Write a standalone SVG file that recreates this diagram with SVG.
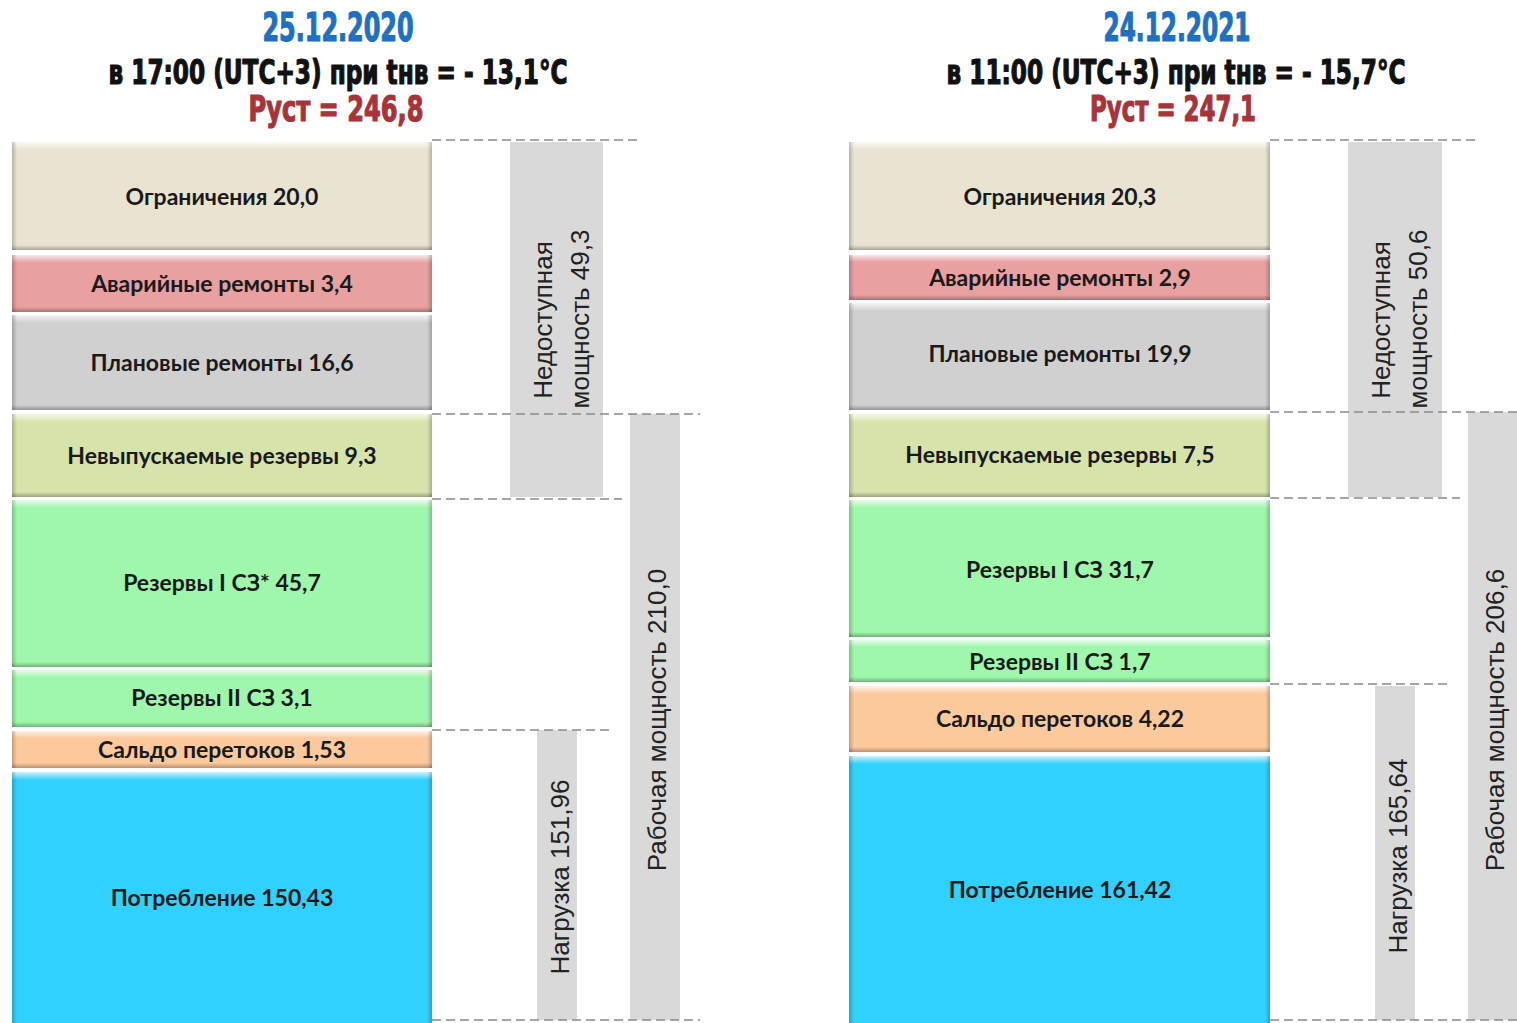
<svg xmlns="http://www.w3.org/2000/svg" width="1517" height="1023" viewBox="0 0 1517 1023">
  <style>
    .ttl { font-family: "Liberation Sans Narrow", "DejaVu Sans Condensed", "Liberation Sans", sans-serif; font-weight: bold; text-anchor: middle; stroke-width: 1.2; stroke-linejoin: round; }
    .date { fill: #1f70c4; stroke: #1f70c4; font-size: 39px; }
    .cond { fill: #111111; stroke: #111111; font-size: 34px; }
    .pust { fill: #a8343a; stroke: #a8343a; font-size: 36px; }
    .lbl { font-family: Lato, "Open Sans", "Liberation Sans", sans-serif; font-weight: bold; font-size: 23px; fill: #1a1a1a; text-anchor: middle; }
    .vt { font-family: "Liberation Sans", Arial, sans-serif; font-size: 26px; fill: #222222; text-anchor: middle; }
    .bar { fill: #d9d9d9; }
    .dash { stroke: #8a8a8a; stroke-width: 1.5; stroke-dasharray: 9 5; fill: none; }
    .c-ogr { fill: #e8e4d1; }
    .c-avar { fill: #e8a0a0; }
    .c-plan { fill: #d0d0d0; }
    .c-nev { fill: #d6e4ab; }
    .c-rez { fill: #9ef7ab; }
    .c-sal { fill: #fcc99c; }
    .c-pot { fill: #31d1fe; }
    .hl { fill: url(#gHi); }
    .sh { fill: url(#gLo); }
    .el { fill: url(#gEdgeL); }
    .er { fill: url(#gEdgeR); }
  </style>
  <defs>
    <linearGradient id="gHi" x1="0" y1="0" x2="0" y2="1">
      <stop offset="0" stop-color="#ffffff" stop-opacity="0.75"/>
      <stop offset="1" stop-color="#ffffff" stop-opacity="0"/>
    </linearGradient>
    <linearGradient id="gLo" x1="0" y1="0" x2="0" y2="1">
      <stop offset="0" stop-color="#000000" stop-opacity="0"/>
      <stop offset="1" stop-color="#000000" stop-opacity="0.28"/>
    </linearGradient>
    <linearGradient id="gEdgeL" x1="0" y1="0" x2="1" y2="0">
      <stop offset="0" stop-color="#000000" stop-opacity="0.22"/>
      <stop offset="1" stop-color="#000000" stop-opacity="0"/>
    </linearGradient>
    <linearGradient id="gEdgeR" x1="0" y1="0" x2="1" y2="0">
      <stop offset="0" stop-color="#000000" stop-opacity="0"/>
      <stop offset="1" stop-color="#000000" stop-opacity="0.22"/>
    </linearGradient>
  </defs>

  <rect x="0" y="0" width="1517" height="1023" fill="#ffffff"/>

  <!-- headings -->
  <g id="head-2020">
    <text class="ttl date" x="338" y="41" textLength="151" lengthAdjust="spacingAndGlyphs">25.12.2020</text>
    <text class="ttl cond" x="338" y="84" textLength="459" lengthAdjust="spacingAndGlyphs">в 17:00 (UTC+3) при tнв = - 13,1°C</text>
    <text class="ttl pust" x="336" y="121" textLength="175" lengthAdjust="spacingAndGlyphs">Руст = 246,8</text>
  </g>
  <g id="head-2021">
    <text class="ttl date" x="1177" y="41" textLength="147" lengthAdjust="spacingAndGlyphs">24.12.2021</text>
    <text class="ttl cond" x="1176" y="84" textLength="459" lengthAdjust="spacingAndGlyphs">в 11:00 (UTC+3) при tнв = - 15,7°C</text>
    <text class="ttl pust" x="1173" y="121" textLength="166" lengthAdjust="spacingAndGlyphs">Руст = 247,1</text>
  </g>

  <!-- guide lines and range bars -->
  <g id="connectors">
    <rect class="bar" x="510" y="142" width="93" height="355"/>
    <rect class="bar" x="630" y="414" width="50" height="606"/>
    <rect class="bar" x="537" y="730" width="40" height="290"/>
    <line class="dash" x1="432" y1="140" x2="640" y2="140"/>
    <line class="dash" x1="432" y1="414" x2="700" y2="414"/>
    <line class="dash" x1="432" y1="499" x2="622" y2="499"/>
    <line class="dash" x1="432" y1="730" x2="612" y2="730"/>
    <line class="dash" x1="432" y1="1020" x2="700" y2="1020"/>

    <rect class="bar" x="1348" y="142" width="94" height="355"/>
    <rect class="bar" x="1468" y="412" width="49" height="608"/>
    <rect class="bar" x="1375" y="686" width="40" height="334"/>
    <line class="dash" x1="1270" y1="140" x2="1478" y2="140"/>
    <line class="dash" x1="1270" y1="412" x2="1517" y2="412"/>
    <line class="dash" x1="1270" y1="498" x2="1460" y2="498"/>
    <line class="dash" x1="1270" y1="684" x2="1450" y2="684"/>
    <line class="dash" x1="1270" y1="1020" x2="1517" y2="1020"/>
  </g>

  <!-- range labels -->
  <g id="range-labels">
    <text class="vt" transform="translate(552,320) rotate(-90)">Недоступная</text>
    <text class="vt" transform="translate(589,319) rotate(-90)">мощность  49,3</text>
    <text class="vt" transform="translate(666,720) rotate(-90)">Рабочая мощность 210,0</text>
    <text class="vt" transform="translate(569,877) rotate(-90)">Нагрузка 151,96</text>

    <text class="vt" transform="translate(1390,320) rotate(-90)">Недоступная</text>
    <text class="vt" transform="translate(1427,319) rotate(-90)">мощность  50,6</text>
    <text class="vt" transform="translate(1504,720) rotate(-90)">Рабочая мощность 206,6</text>
    <text class="vt" transform="translate(1407,856) rotate(-90)">Нагрузка 165,64</text>
  </g>

  <!-- 2020 stack -->
  <g id="l-ogr">
    <rect class="c-ogr" x="12" y="142" width="420" height="108"/>
    <rect class="hl" x="12" y="142" width="420" height="8"/><rect class="sh" x="12" y="245" width="420" height="5"/>
    <rect class="el" x="12" y="142" width="5" height="108"/><rect class="er" x="427" y="142" width="5" height="108"/>
    <text class="lbl" x="222" y="205">Ограничения 20,0</text>
  </g>
  <g id="l-avar">
    <rect class="c-avar" x="12" y="255" width="420" height="57"/>
    <rect class="hl" x="12" y="255" width="420" height="8"/><rect class="sh" x="12" y="307" width="420" height="5"/>
    <rect class="el" x="12" y="255" width="5" height="57"/><rect class="er" x="427" y="255" width="5" height="57"/>
    <text class="lbl" x="222" y="292">Аварийные ремонты 3,4</text>
  </g>
  <g id="l-plan">
    <rect class="c-plan" x="12" y="315" width="420" height="95"/>
    <rect class="hl" x="12" y="315" width="420" height="8"/><rect class="sh" x="12" y="405" width="420" height="5"/>
    <rect class="el" x="12" y="315" width="5" height="95"/><rect class="er" x="427" y="315" width="5" height="95"/>
    <text class="lbl" x="222" y="371">Плановые ремонты 16,6</text>
  </g>
  <g id="l-nev">
    <rect class="c-nev" x="12" y="414" width="420" height="83"/>
    <rect class="hl" x="12" y="414" width="420" height="8"/><rect class="sh" x="12" y="492" width="420" height="5"/>
    <rect class="el" x="12" y="414" width="5" height="83"/><rect class="er" x="427" y="414" width="5" height="83"/>
    <text class="lbl" x="222" y="464">Невыпускаемые резервы 9,3</text>
  </g>
  <g id="l-rez1">
    <rect class="c-rez" x="12" y="500" width="420" height="167"/>
    <rect class="hl" x="12" y="500" width="420" height="8"/><rect class="sh" x="12" y="662" width="420" height="5"/>
    <rect class="el" x="12" y="500" width="5" height="167"/><rect class="er" x="427" y="500" width="5" height="167"/>
    <text class="lbl" x="222" y="591">Резервы I СЗ* 45,7</text>
  </g>
  <g id="l-rez2">
    <rect class="c-rez" x="12" y="670" width="420" height="57"/>
    <rect class="hl" x="12" y="670" width="420" height="8"/><rect class="sh" x="12" y="722" width="420" height="5"/>
    <rect class="el" x="12" y="670" width="5" height="57"/><rect class="er" x="427" y="670" width="5" height="57"/>
    <text class="lbl" x="222" y="706">Резервы II СЗ 3,1</text>
  </g>
  <g id="l-sal">
    <rect class="c-sal" x="12" y="731" width="420" height="37"/>
    <rect class="hl" x="12" y="731" width="420" height="7"/><rect class="sh" x="12" y="763" width="420" height="5"/>
    <rect class="el" x="12" y="731" width="5" height="37"/><rect class="er" x="427" y="731" width="5" height="37"/>
    <text class="lbl" x="222" y="758">Сальдо перетоков 1,53</text>
  </g>
  <g id="l-pot">
    <rect class="c-pot" x="12" y="772" width="420" height="251"/>
    <rect class="hl" x="12" y="772" width="420" height="8"/>
    <rect class="el" x="12" y="772" width="5" height="251"/><rect class="er" x="427" y="772" width="5" height="251"/>
    <text class="lbl" x="222" y="906">Потребление 150,43</text>
  </g>

  <!-- 2021 stack -->
  <g id="r-ogr">
    <rect class="c-ogr" x="849" y="142" width="421" height="108"/>
    <rect class="hl" x="849" y="142" width="421" height="8"/><rect class="sh" x="849" y="245" width="421" height="5"/>
    <rect class="el" x="849" y="142" width="5" height="108"/><rect class="er" x="1265" y="142" width="5" height="108"/>
    <text class="lbl" x="1060" y="205">Ограничения 20,3</text>
  </g>
  <g id="r-avar">
    <rect class="c-avar" x="849" y="255" width="421" height="45"/>
    <rect class="hl" x="849" y="255" width="421" height="7"/><rect class="sh" x="849" y="295" width="421" height="5"/>
    <rect class="el" x="849" y="255" width="5" height="45"/><rect class="er" x="1265" y="255" width="5" height="45"/>
    <text class="lbl" x="1060" y="286">Аварийные ремонты 2,9</text>
  </g>
  <g id="r-plan">
    <rect class="c-plan" x="849" y="303" width="421" height="107"/>
    <rect class="hl" x="849" y="303" width="421" height="8"/><rect class="sh" x="849" y="405" width="421" height="5"/>
    <rect class="el" x="849" y="303" width="5" height="107"/><rect class="er" x="1265" y="303" width="5" height="107"/>
    <text class="lbl" x="1060" y="362">Плановые ремонты 19,9</text>
  </g>
  <g id="r-nev">
    <rect class="c-nev" x="849" y="414" width="421" height="83"/>
    <rect class="hl" x="849" y="414" width="421" height="8"/><rect class="sh" x="849" y="492" width="421" height="5"/>
    <rect class="el" x="849" y="414" width="5" height="83"/><rect class="er" x="1265" y="414" width="5" height="83"/>
    <text class="lbl" x="1060" y="463">Невыпускаемые резервы 7,5</text>
  </g>
  <g id="r-rez1">
    <rect class="c-rez" x="849" y="500" width="421" height="137"/>
    <rect class="hl" x="849" y="500" width="421" height="8"/><rect class="sh" x="849" y="632" width="421" height="5"/>
    <rect class="el" x="849" y="500" width="5" height="137"/><rect class="er" x="1265" y="500" width="5" height="137"/>
    <text class="lbl" x="1060" y="578">Резервы I СЗ 31,7</text>
  </g>
  <g id="r-rez2">
    <rect class="c-rez" x="849" y="640" width="421" height="42"/>
    <rect class="hl" x="849" y="640" width="421" height="7"/><rect class="sh" x="849" y="677" width="421" height="5"/>
    <rect class="el" x="849" y="640" width="5" height="42"/><rect class="er" x="1265" y="640" width="5" height="42"/>
    <text class="lbl" x="1060" y="670">Резервы II СЗ 1,7</text>
  </g>
  <g id="r-sal">
    <rect class="c-sal" x="849" y="686" width="421" height="66"/>
    <rect class="hl" x="849" y="686" width="421" height="8"/><rect class="sh" x="849" y="747" width="421" height="5"/>
    <rect class="el" x="849" y="686" width="5" height="66"/><rect class="er" x="1265" y="686" width="5" height="66"/>
    <text class="lbl" x="1060" y="727">Сальдо перетоков 4,22</text>
  </g>
  <g id="r-pot">
    <rect class="c-pot" x="849" y="756" width="421" height="267"/>
    <rect class="hl" x="849" y="756" width="421" height="8"/>
    <rect class="el" x="849" y="756" width="5" height="267"/><rect class="er" x="1265" y="756" width="5" height="267"/>
    <text class="lbl" x="1060" y="898">Потребление 161,42</text>
  </g>
</svg>
